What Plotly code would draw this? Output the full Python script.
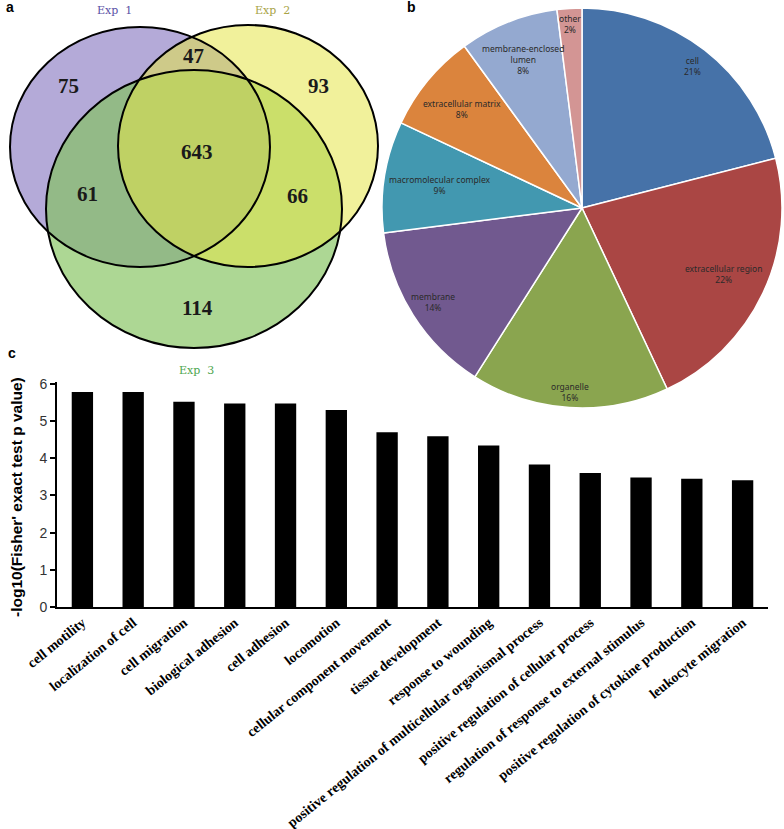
import numpy as np
import plotly.graph_objects as go

W, H = 784, 829

# ---- panel a: Venn counts ----
venn_regions = ["Exp 1 only", "Exp 1 & 2", "Exp 2 only", "Exp 1 & 3", "all", "Exp 2 & 3", "Exp 3 only"]
venn_counts = [75, 47, 93, 61, 643, 66, 114]
venn_sets = ["Exp 1", "Exp 2", "Exp 3"]

# ---- panel b: cellular component pie ----
pie_labels = ["cell", "extracellular region", "organelle", "membrane",
              "macromolecular complex", "extracellular matrix",
              "membrane-enclosed lumen", "other"]
pie_values = [21, 22, 16, 14, 9, 8, 8, 2]

# ---- panel c: GO terms ----
go_terms = ["cell motility", "localization of cell", "cell migration",
            "biological adhesion", "cell adhesion", "locomotion",
            "cellular component movement", "tissue development",
            "response to wounding",
            "positive regulation of multicellular organismal process",
            "positive regulation of cellular process",
            "regulation of response to external stimulus",
            "positive regulation of cytokine production",
            "leukocyte migration"]
go_scores = [5.78, 5.78, 5.52, 5.47, 5.47, 5.30, 4.70, 4.59, 4.34,
             3.83, 3.60, 3.48, 3.45, 3.41]


def px(x):
    return x / W


def py(y):
    return 1 - y / H


def note(x, y, text, font, **kw):
    # text centred on a pixel position of the figure
    d = dict(x=px(x), y=py(y), xref="paper", yref="paper", text=text,
             showarrow=False, xanchor="center", yanchor="middle", font=font)
    d.update(kw)
    return d


fig = go.Figure()

# --- bar chart (c) ---
fig.add_trace(go.Bar(
    x=go_terms, y=go_scores,
    marker_color="black", marker_line_width=0,
    showlegend=False, xaxis="x", yaxis="y",
))

# --- pie chart (b) ---
pie_cx, pie_cy, pie_r = 582, 208, 200
pie_colors = ["#4672a8", "#aa4644", "#8aa54f", "#71598f",
              "#4298b0", "#db843d", "#94a9d0", "#d39594"]
fig.add_trace(go.Pie(
    labels=pie_labels, values=pie_values, sort=False,
    direction="clockwise", rotation=0,
    marker=dict(colors=pie_colors, line=dict(color="white", width=1.5)),
    textinfo="none", showlegend=False, hoverinfo="label+percent",
    domain=dict(x=[px(pie_cx - pie_r), px(pie_cx + pie_r)],
                y=[py(pie_cy + pie_r), py(pie_cy - pie_r)]),
))

annotations = []

# pie labels placed along each slice's mid angle
label_radius = [0.9, 0.78, 0.92, 0.88, 0.72, 0.78, 0.8, 0.92]
cum = np.cumsum(pie_values)
total = cum[-1]
for i, (lab, v) in enumerate(zip(pie_labels, pie_values)):
    mid = (cum[i] - v / 2) / total * 2 * np.pi
    rr = label_radius[i] * pie_r
    lx = pie_cx + rr * np.sin(mid)
    ly = pie_cy - rr * np.cos(mid)
    txt = lab
    if lab == "membrane-enclosed lumen":
        txt = "membrane-enclosed<br>lumen"
    annotations.append(note(lx, ly, f"{txt}<br>{v}%",
                            dict(family="Noto Sans", size=8.5, color="#2a2a2a"),
                            align="center"))

# --- Venn diagram (a) ---
circles = {
    "Exp 1": dict(x0=10, x1=270, y0=27, y1=267, fill="rgba(180,170,216,1)"),
    "Exp 3": dict(x0=46, x1=342, y0=70, y1=348, fill="rgba(130,194,92,0.66)"),
    "Exp 2": dict(x0=118, x1=378, y0=25, y1=267, fill="rgba(230,230,70,0.54)"),
}
shapes = []
for name in ["Exp 1", "Exp 3", "Exp 2"]:
    c = circles[name]
    shapes.append(dict(type="circle", xref="paper", yref="paper",
                       x0=px(c["x0"]), x1=px(c["x1"]),
                       y0=py(c["y1"]), y1=py(c["y0"]),
                       fillcolor=c["fill"], line=dict(width=0), layer="above"))
for name in ["Exp 1", "Exp 3", "Exp 2"]:
    c = circles[name]
    shapes.append(dict(type="circle", xref="paper", yref="paper",
                       x0=px(c["x0"]), x1=px(c["x1"]),
                       y0=py(c["y1"]), y1=py(c["y0"]),
                       fillcolor="rgba(0,0,0,0)",
                       line=dict(color="black", width=2), layer="above"))

count_pos = [(68, 86), (193, 56), (318, 86), (87, 194), (197, 152), (297, 196), (197, 308)]
for n, (x, y) in zip(venn_counts, count_pos):
    annotations.append(note(x, y, f"<b>{n}</b>",
                            dict(family="Liberation Serif", size=21, color="#1a1a1a")))

set_pos = [(114, 10), (272, 10), (196, 370)]
set_colors = ["#5a52a6", "#a8a345", "#4ea64e"]
for name, (x, y), col in zip(venn_sets, set_pos, set_colors):
    annotations.append(note(x, y, name.replace(" ", "&nbsp;&nbsp;"),
                            dict(family="DejaVu Serif", size=11, color=col)))

# panel letters
for letter, (x, y) in zip(["a", "b", "c"], [(10, 7), (411, 7), (12, 353)]):
    annotations.append(note(x, y, f"<b>{letter}</b>",
                            dict(family="Liberation Sans", size=14, color="black")))

# y axis title of panel c
annotations.append(note(16, 497, "<b>-log10(Fisher' exact test p value)</b>",
                        dict(family="Liberation Sans", size=15.5, color="black"),
                        textangle=-90))

fig.update_layout(
    width=W, height=H,
    margin=dict(l=0, r=0, t=0, b=0),
    paper_bgcolor="white", plot_bgcolor="rgba(0,0,0,0)",
    template="none",
    bargap=0.58,
    shapes=shapes,
    annotations=annotations,
    xaxis=dict(
        domain=[px(57), px(768)], anchor="y",
        showgrid=False, zeroline=False, automargin=False,
        showline=True, linecolor="black", linewidth=2,
        ticks="", tickangle=-39,
        tickfont=dict(family="Liberation Serif", size=14, color="black", weight="bold"),
    ),
    yaxis=dict(
        domain=[py(607), py(382)], anchor="x",
        range=[0, 6.05], tickvals=[0, 1, 2, 3, 4, 5, 6],
        showgrid=False, zeroline=False, automargin=False,
        showline=True, linecolor="black", linewidth=2,
        ticks="outside", ticklen=5, tickwidth=1.5, tickcolor="black",
        tickfont=dict(family="Liberation Sans", size=14, color="#333333"),
    ),
)

fig.write_html("out.html", config={"displayModeBar": False},
               post_script="document.body.style.margin='0';")
